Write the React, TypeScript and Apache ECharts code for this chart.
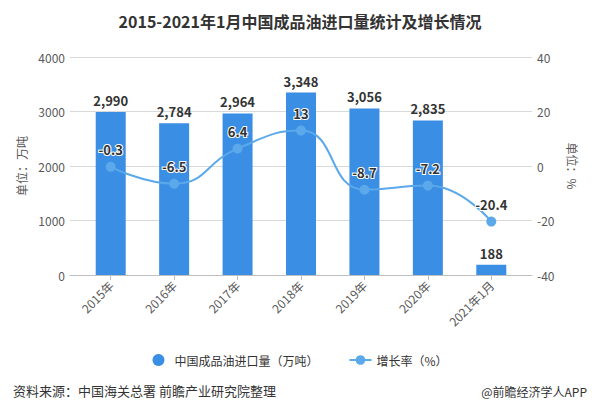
import React, { useEffect, useRef } from "react";
import * as echarts from "echarts";

const categories = ["2015年", "2016年", "2017年", "2018年", "2019年", "2020年", "2021年1月"];
const importVolume = [2990, 2784, 2964, 3348, 3056, 2835, 188];
const growthRate = [-0.3, -6.5, 6.4, 13, -8.7, -7.2, -20.4];
const leftTicks = { min: 0, max: 4000, interval: 1000 };
const rightTicks = { min: -40, max: 40, interval: 20 };

const FONT = "'Noto Sans CJK SC', 'Noto Sans', sans-serif";
const BAR_COLOR = "#3a8ee3";
const LINE_COLOR = "#5ba9ea";
const AXIS_TEXT = "#595959";

export default function App() {
  const ref = useRef<HTMLDivElement>(null);
  useEffect(() => {
    if (!ref.current) return;
    const chart = echarts.init(ref.current, undefined, { renderer: "svg" });
    chart.setOption({
      animation: false,
      backgroundColor: "#ffffff",
      textStyle: { fontFamily: FONT },
      title: [
        {
          text: "2015-2021年1月中国成品油进口量统计及增长情况",
          left: "center",
          top: 8,
          textStyle: { fontSize: 16, fontWeight: "bold", color: "#333", fontFamily: FONT },
        },
        {
          text: "资料来源：中国海关总署 前瞻产业研究院整理",
          left: 8,
          top: 379,
          textStyle: { fontSize: 13, fontWeight: "normal", color: "#333", fontFamily: FONT },
        },
        {
          text: "@前瞻经济学人APP",
          right: 8,
          top: 380,
          textStyle: { fontSize: 12, fontWeight: "normal", color: "#333", fontFamily: FONT },
        },
      ],
      legend: {
        top: 349,
        left: "center",
        itemGap: 30,
        itemWidth: 22,
        itemHeight: 12,
        textStyle: { fontSize: 12, color: "#333", fontFamily: FONT },
        data: [
          { name: "中国成品油进口量（万吨）", icon: "circle" },
          { name: "增长率（%）" },
        ],
      },
      grid: [
        { left: 70, right: 68, top: 57, bottom: 137 },
        { left: 79, right: 77, top: 57, bottom: 137 },
      ],
      xAxis: [
        {
          gridIndex: 0,
          type: "category",
          data: [""],
          axisLine: { show: true, onZero: false, lineStyle: { color: "#bfbfbf" } },
          axisTick: { show: false },
          axisLabel: { show: false },
        },
        {
          gridIndex: 1,
          type: "category",
          data: categories,
          axisLine: { show: false, onZero: false },
          axisTick: { show: true, alignWithLabel: true, length: 5, lineStyle: { color: "#bfbfbf" } },
          axisLabel: { rotate: 45, color: AXIS_TEXT, fontSize: 12, margin: 8, fontFamily: FONT },
        },
      ],
      yAxis: [
        {
          gridIndex: 0,
          type: "value",
          position: "left",
          ...leftTicks,
          name: "单位：万吨",
          nameLocation: "middle",
          nameGap: 38,
          nameTextStyle: { color: AXIS_TEXT, fontSize: 12, fontFamily: FONT },
          axisLine: { show: false, lineStyle: { color: AXIS_TEXT } },
          axisTick: { show: false },
          axisLabel: { color: AXIS_TEXT, fontSize: 12, margin: 5, formatter: (v: number) => String(v) },
          splitLine: { lineStyle: { color: "#d9d9d9" } },
        },
        {
          gridIndex: 0,
          type: "value",
          position: "right",
          ...rightTicks,
          name: "单位：%",
          nameLocation: "middle",
          nameGap: 34,
          nameRotate: -90,
          nameTextStyle: { color: AXIS_TEXT, fontSize: 12, fontFamily: FONT },
          axisLine: { show: false, lineStyle: { color: AXIS_TEXT } },
          axisTick: { show: false },
          axisLabel: { color: AXIS_TEXT, fontSize: 12, margin: 5, formatter: (v: number) => String(v) },
          splitLine: { show: false },
        },
        { gridIndex: 1, type: "value", ...leftTicks, show: false, splitLine: { show: false } },
        { gridIndex: 1, type: "value", ...rightTicks, show: false, splitLine: { show: false } },
      ],
      series: [
        {
          name: "中国成品油进口量（万吨）",
          type: "bar",
          xAxisIndex: 1,
          yAxisIndex: 2,
          data: importVolume,
          barWidth: 30,
          itemStyle: { color: BAR_COLOR },
          label: {
            show: true,
            position: "top",
            distance: 5,
            color: "#333",
            fontSize: 13,
            fontWeight: "bold",
            fontFamily: FONT,
            formatter: (p: any) => Number(p.value).toLocaleString("en-US"),
          },
          z: 2,
        },
        {
          name: "增长率（%）",
          type: "line",
          xAxisIndex: 1,
          yAxisIndex: 3,
          data: growthRate,
          smooth: true,
          symbol: "circle",
          symbolSize: 10,
          lineStyle: { color: LINE_COLOR, width: 2 },
          itemStyle: { color: LINE_COLOR },
          label: {
            show: true,
            position: "top",
            distance: 6,
            color: "#333",
            fontSize: 13,
            fontWeight: "bold",
            fontFamily: FONT,
            textBorderColor: "#ffffff",
            textBorderWidth: 2,
          },
          z: 3,
        },
      ],
    });
    return () => chart.dispose();
  }, []);
  return <div ref={ref} style={{ width: 600, height: 412, position: "absolute", left: 0, top: 0 }} />;
}
